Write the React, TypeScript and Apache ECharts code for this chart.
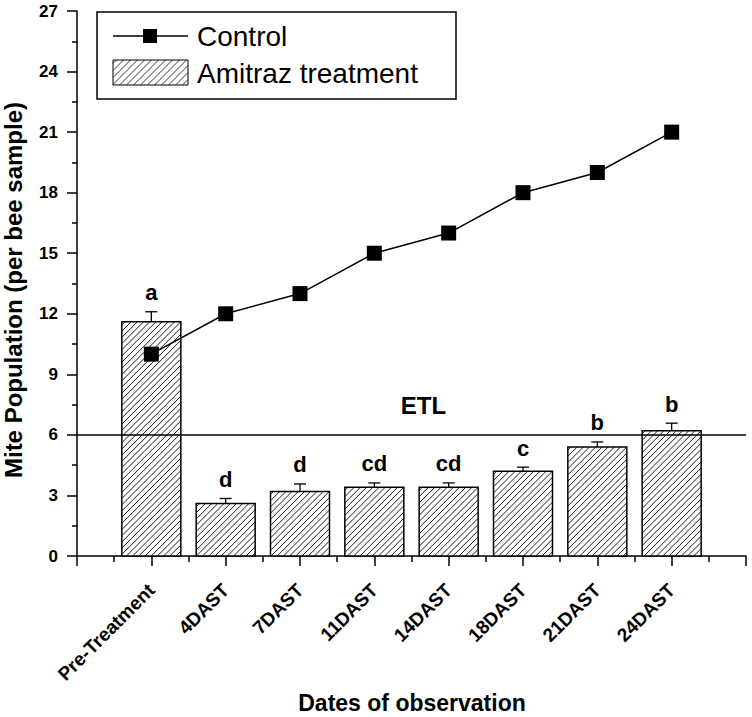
import React, { useEffect, useRef } from "react";
import * as echarts from "echarts";

const categories = ["Pre-Treatment", "4DAST", "7DAST", "11DAST", "14DAST", "18DAST", "21DAST", "24DAST"];
const controlValues = [10, 12, 13, 15, 16, 18, 19, 21];
const amitrazValues = [11.6, 2.6, 3.2, 3.4, 3.4, 4.2, 5.4, 6.2];
const amitrazErrors = [0.5, 0.25, 0.37, 0.22, 0.22, 0.2, 0.25, 0.38];
const significanceLetters = ["a", "d", "d", "cd", "cd", "c", "b", "b"];
const etlValue = 6;
const yMin = 0;
const yMax = 27;
const yInterval = 3;

const FONT = 'Arial, "Liberation Sans", Helvetica, sans-serif';

function hatchLines(x0: number, y0: number, w: number, h: number, step: number, lw: number) {
  const out: any[] = [];
  const cStart = x0 + y0;
  const cEnd = x0 + w + y0 + h;
  for (let c = cStart + step / 2; c < cEnd; c += step) {
    const xa = Math.max(x0, c - (y0 + h));
    const xb = Math.min(x0 + w, c - y0);
    if (xb <= xa) continue;
    out.push({
      type: "line",
      shape: { x1: xa, y1: c - xa, x2: xb, y2: c - xb },
      style: { stroke: "#000", lineWidth: lw },
      silent: true,
    });
  }
  return out;
}

export default function App() {
  const ref = useRef<HTMLDivElement>(null);
  useEffect(() => {
    if (!ref.current) return;
    const chart = echarts.init(ref.current, undefined, { renderer: "svg" });

    const barData = categories.map((_, i) => [i, amitrazValues[i], amitrazErrors[i]]);
    const lineData = categories.map((_, i) => [i, controlValues[i]]);

    const legendBox = { x: 97, y: 12, w: 359, h: 87 };
    const legendChildren: any[] = [
      {
        type: "rect",
        shape: { x: legendBox.x, y: legendBox.y, width: legendBox.w, height: legendBox.h },
        style: { fill: "#fff", stroke: "#000", lineWidth: 1.5 },
      },
      { type: "line", shape: { x1: 113, y1: 36, x2: 188, y2: 36 }, style: { stroke: "#000", lineWidth: 1.5 } },
      { type: "rect", shape: { x: 143, y: 29, width: 14, height: 14 }, style: { fill: "#000" } },
      {
        type: "text",
        x: 197,
        y: 36,
        style: { text: "Control", font: `28px ${FONT}`, fill: "#000", textAlign: "left", textVerticalAlign: "middle" },
      },
      { type: "rect", shape: { x: 113, y: 60, width: 75, height: 25 }, style: { fill: "#fff" } },
      ...hatchLines(113, 60, 75, 25, 7, 0.8),
      { type: "rect", shape: { x: 113, y: 60, width: 75, height: 25 }, style: { fill: "none", stroke: "#000", lineWidth: 1 } },
      {
        type: "text",
        x: 197,
        y: 73,
        style: { text: "Amitraz treatment", font: `28px ${FONT}`, fill: "#000", textAlign: "left", textVerticalAlign: "middle" },
      },
    ];

    const option: any = {
      animation: false,
      backgroundColor: "#fff",
      grid: { left: 77, right: 6, top: 11, bottom: 161, containLabel: false, outerBoundsMode: "none" },
      xAxis: {
        type: "value",
        min: -1,
        max: 8,
        interval: 1,
        axisLine: { show: true, onZero: false, lineStyle: { color: "#000", width: 1.5 } },
        axisTick: { show: true, inside: false, length: 10, lineStyle: { color: "#000", width: 1.5 } },
        minorTick: { show: true, splitNumber: 2, length: 6, lineStyle: { color: "#000", width: 1.5 } },
        splitLine: { show: false },
        axisLabel: {
          show: true,
          rotate: 45,
          margin: 31,
          color: "#000",
          fontFamily: FONT,
          fontWeight: "bold",
          fontSize: 19,
          showMinLabel: true,
          showMaxLabel: true,
          formatter: (v: number) => (categories[v] !== undefined ? categories[v] : ""),
        },
      },
      yAxis: {
        type: "value",
        min: yMin,
        max: yMax,
        interval: yInterval,
        axisLine: { show: true, onZero: false, lineStyle: { color: "#000", width: 1.5 } },
        axisTick: { show: true, inside: false, length: 10, lineStyle: { color: "#000", width: 1.5 } },
        minorTick: { show: true, splitNumber: 2, length: 5, lineStyle: { color: "#000", width: 1.5 } },
        splitLine: { show: false },
        axisLabel: { color: "#000", fontFamily: FONT, fontWeight: "bold", fontSize: 17, margin: 19 },
      },
      series: [
        {
          type: "custom",
          name: "Amitraz treatment",
          data: barData,
          encode: { x: 0, y: 1 },
          z: 2,
          renderItem: (params: any, api: any) => {
            const i = api.value(0);
            const v = api.value(1);
            const e = api.value(2);
            const [cx, yTop] = api.coord([i, v]);
            const [, yBase] = api.coord([i, 0]);
            const [, yErr] = api.coord([i, v + e]);
            const w = 59;
            const x0 = cx - w / 2;
            const h = yBase - yTop;
            const letter = significanceLetters[params.dataIndex];
            return {
              type: "group",
              children: [
                { type: "rect", shape: { x: x0, y: yTop, width: w, height: h }, style: { fill: "#fff" } },
                ...hatchLines(x0, yTop, w, h, 6.2, 0.9),
                {
                  type: "rect",
                  shape: { x: x0, y: yTop, width: w, height: h },
                  style: { fill: "none", stroke: "#000", lineWidth: 1.5 },
                },
                { type: "line", shape: { x1: cx, y1: yTop, x2: cx, y2: yErr }, style: { stroke: "#000", lineWidth: 1.3 } },
                { type: "line", shape: { x1: cx - 6, y1: yErr, x2: cx + 6, y2: yErr }, style: { stroke: "#000", lineWidth: 1.3 } },
                {
                  type: "text",
                  x: cx,
                  y: yErr - 8,
                  style: {
                    text: letter,
                    font: `bold 22px ${FONT}`,
                    fill: "#000",
                    textAlign: "center",
                    textVerticalAlign: "bottom",
                  },
                },
              ],
            };
          },
        },
        {
          type: "line",
          name: "Control",
          data: lineData,
          z: 5,
          symbol: "rect",
          symbolSize: 15,
          itemStyle: { color: "#000" },
          lineStyle: { color: "#000", width: 1.5 },
          markLine: {
            silent: true,
            symbol: "none",
            data: [{ yAxis: etlValue }],
            lineStyle: { color: "#000", width: 1.5, type: "solid" },
            label: {
              show: true,
              position: "middle",
              formatter: "ETL",
              color: "#000",
              fontFamily: FONT,
              fontWeight: "bold",
              fontSize: 24,
              distance: 17,
              offset: [12, 0],
            },
          },
        },
      ],
      graphic: [
        {
          type: "group",
          z: 100,
          children: legendChildren,
        },
        {
          type: "text",
          x: 412,
          y: 703,
          style: {
            text: "Dates of observation",
            font: `bold 23px ${FONT}`,
            fill: "#000",
            textAlign: "center",
            textVerticalAlign: "middle",
          },
        },
        {
          type: "text",
          x: 13,
          y: 290,
          rotation: Math.PI / 2,
          style: {
            text: "Mite Population (per bee sample)",
            font: `bold 24px ${FONT}`,
            fill: "#000",
            textAlign: "center",
            textVerticalAlign: "middle",
          },
        },
      ],
    };
    chart.setOption(option);
    return () => chart.dispose();
  }, []);
  return <div ref={ref} style={{ position: "absolute", left: 0, top: 0, width: 752, height: 717 }} />;
}
